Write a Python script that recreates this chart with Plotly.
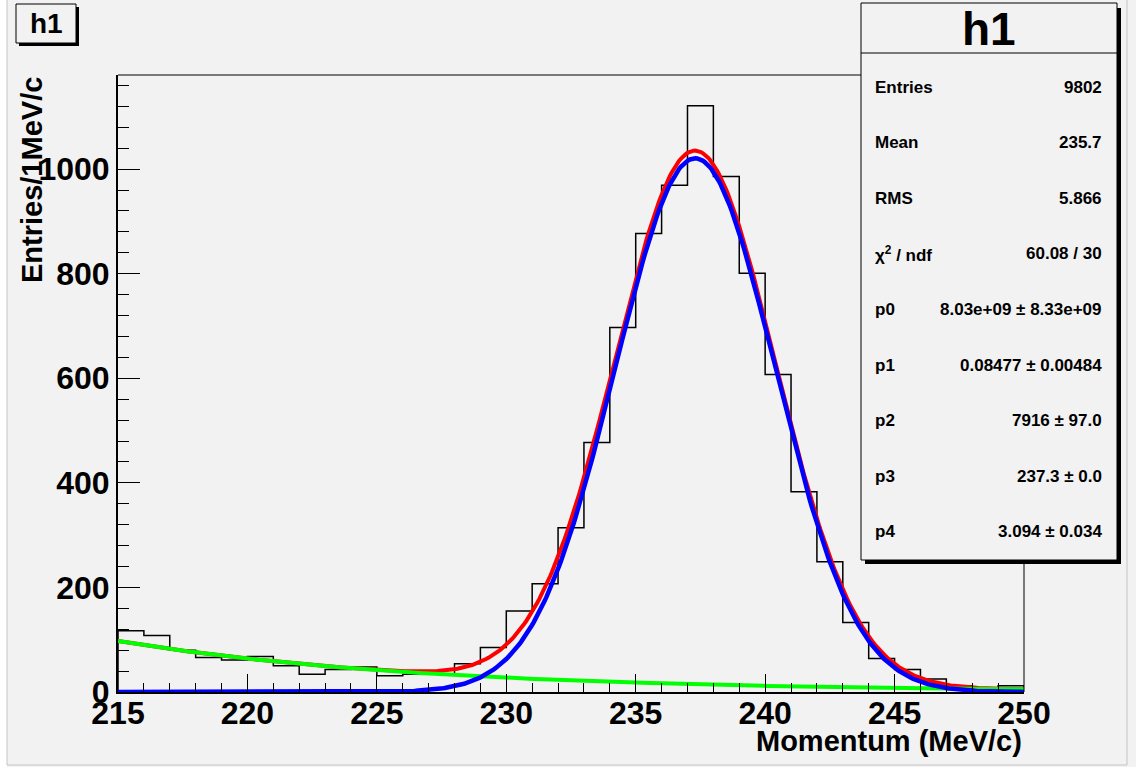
import numpy as np
import plotly.graph_objects as go

# histogram h1: 1 MeV/c bins from 215 to 250
bin_low = 215
bin_width = 1
counts = [117, 108, 80, 66, 61, 68, 50, 34, 43, 48,
          31, 34, 34, 54, 85, 155, 207, 314, 477, 697,
          877, 969, 1121, 986, 801, 607, 383, 249, 133, 64,
          43, 25, 12, 8, 12]

# fit parameters (expo background + gaussian), as printed in the stats box
p0, p1, p2, p3, p4 = 8.03e+09, 0.08477, 7916.0, 237.3, 3.094

stat_labels = ["Entries", "Mean", "RMS", "χ<sup>2</sup> / ndf",
               "p0", "p1", "p2", "p3", "p4"]
stat_values = ["9802", "235.7", "5.866", "60.08 / 30",
               "8.03e+09 ± 8.33e+09", "0.08477 ± 0.00484",
               "7916 ± 97.0", "237.3 ± 0.0", "3.094 ± 0.034"]

FONT = "Liberation Sans, Arial, Helvetica, sans-serif"
BG = "#f2f2f2"

# frame in pixels
L, R, T, B = 118, 1024, 75, 692


def px(x):
    return (x - L) / (R - L)


def py(y):
    return (B - y) / (B - T)


edges = bin_low + bin_width * np.arange(len(counts) + 1)
hx = np.concatenate([[edges[0]], edges, [edges[-1]]])
hy = np.concatenate([[0], counts, [counts[-1]], [0]])

xf = np.linspace(edges[0], edges[-1], 500)
bkg = p0 * np.exp(-p1 * xf)
sig = p2 / (np.sqrt(2 * np.pi) * p4) * np.exp(-0.5 * ((xf - p3) / p4) ** 2)

fig = go.Figure()
fig.add_trace(go.Scatter(x=hx, y=hy, mode="lines", line_shape="hv",
                         line=dict(color="black", width=1.5)))
fig.add_trace(go.Scatter(x=xf, y=sig + bkg, mode="lines",
                         line=dict(color="#ff0000", width=4)))
fig.add_trace(go.Scatter(x=xf, y=bkg, mode="lines",
                         line=dict(color="#00ff00", width=4)))
fig.add_trace(go.Scatter(x=xf, y=sig, mode="lines",
                         line=dict(color="#0000ff", width=4.5)))

tickfont = dict(family=FONT, size=32, color="black", weight="bold")

fig.update_xaxes(range=[215, 250], showgrid=False, zeroline=False,
                 showline=True, linecolor="black", linewidth=2,
                 ticks="inside", ticklen=18, tickwidth=1, tickcolor="black",
                 dtick=5, tick0=215, tickfont=tickfont, ticklabelstandoff=-8,
                 minor=dict(dtick=1, ticks="inside", ticklen=9,
                            tickcolor="black", tickwidth=1))
fig.update_yaxes(range=[0, 1180], showgrid=False, zeroline=False,
                 showline=True, linecolor="black", linewidth=2,
                 ticks="inside", ticklen=22, tickwidth=1, tickcolor="black",
                 dtick=200, tickfont=tickfont, ticklabelstandoff=0,
                 minor=dict(dtick=40, ticks="inside", ticklen=11,
                            tickcolor="black", tickwidth=1))

shapes = [
    # canvas border and white strip at the left
    dict(type="rect", xref="paper", yref="paper", x0=px(0), x1=px(7),
         y0=py(767), y1=py(0), fillcolor="white", line_width=0, layer="below"),
    dict(type="rect", xref="paper", yref="paper", x0=px(7), x1=px(1127),
         y0=py(765), y1=py(-2), line=dict(color="#c4c4c4", width=1),
         layer="below"),
    # top and right frame lines
    dict(type="line", xref="paper", yref="paper", x0=0, x1=1, y0=1, y1=1,
         line=dict(color="black", width=1)),
    dict(type="line", xref="paper", yref="paper", x0=1, x1=1, y0=0, y1=1,
         line=dict(color="black", width=1)),
    # title box shadow + box
    dict(type="rect", xref="paper", yref="paper", x0=px(19), x1=px(79),
         y0=py(46), y1=py(7), fillcolor="black", line_width=0),
    dict(type="rect", xref="paper", yref="paper", x0=px(16), x1=px(76),
         y0=py(43), y1=py(4), fillcolor=BG, line=dict(color="black", width=1)),
    # stats box shadow + box
    dict(type="rect", xref="paper", yref="paper", x0=px(865), x1=px(1121),
         y0=py(564), y1=py(8), fillcolor="black", line_width=0),
    dict(type="rect", xref="paper", yref="paper", x0=px(861), x1=px(1117),
         y0=py(560), y1=py(3), fillcolor=BG, line=dict(color="black", width=1)),
    dict(type="line", xref="paper", yref="paper", x0=px(861), x1=px(1117),
         y0=py(53), y1=py(53), line=dict(color="black", width=1)),
]

annotations = [
    dict(text="h1", x=px(46), y=py(24), xref="paper", yref="paper",
         showarrow=False, xanchor="center", yanchor="middle",
         font=dict(family=FONT, size=28, color="black", weight="bold")),
    dict(text="h1", x=px(989), y=py(29), xref="paper", yref="paper",
         showarrow=False, xanchor="center", yanchor="middle",
         font=dict(family=FONT, size=46, color="black", weight="bold")),
    dict(text="Momentum (MeV/c)", x=1, y=py(741), xref="paper", yref="paper",
         showarrow=False, xanchor="right", yanchor="middle",
         font=dict(family=FONT, size=29, color="black", weight="bold")),
    dict(text="Entries/1MeV/c", x=px(32), y=1, xref="paper", yref="paper",
         showarrow=False, xanchor="center", yanchor="top", textangle=-90,
         font=dict(family=FONT, size=29, color="black", weight="bold")),
]

row_y0, row_dy = 87, 55.6
for i, (lab, val) in enumerate(zip(stat_labels, stat_values)):
    yy = py(row_y0 + i * row_dy)
    annotations.append(dict(text=lab, x=px(873), y=yy, xref="paper",
                            yref="paper", showarrow=False, xanchor="left",
                            yanchor="middle",
                            font=dict(family=FONT, size=17, color="black",
                                      weight="bold")))
    annotations.append(dict(text=val, x=px(1104), y=yy, xref="paper",
                            yref="paper", showarrow=False, xanchor="right",
                            yanchor="middle",
                            font=dict(family=FONT, size=17, color="black",
                                      weight="bold")))

fig.update_layout(
    width=1136, height=767,
    margin=dict(l=L, r=1136 - R, t=T, b=767 - B),
    paper_bgcolor=BG, plot_bgcolor=BG,
    showlegend=False,
    shapes=shapes,
    annotations=annotations,
)

# drop the default page margin so the figure sits at the window's corner
fig.write_html("out.html", config={"displayModeBar": False},
               post_script="document.body.style.margin='0';")
